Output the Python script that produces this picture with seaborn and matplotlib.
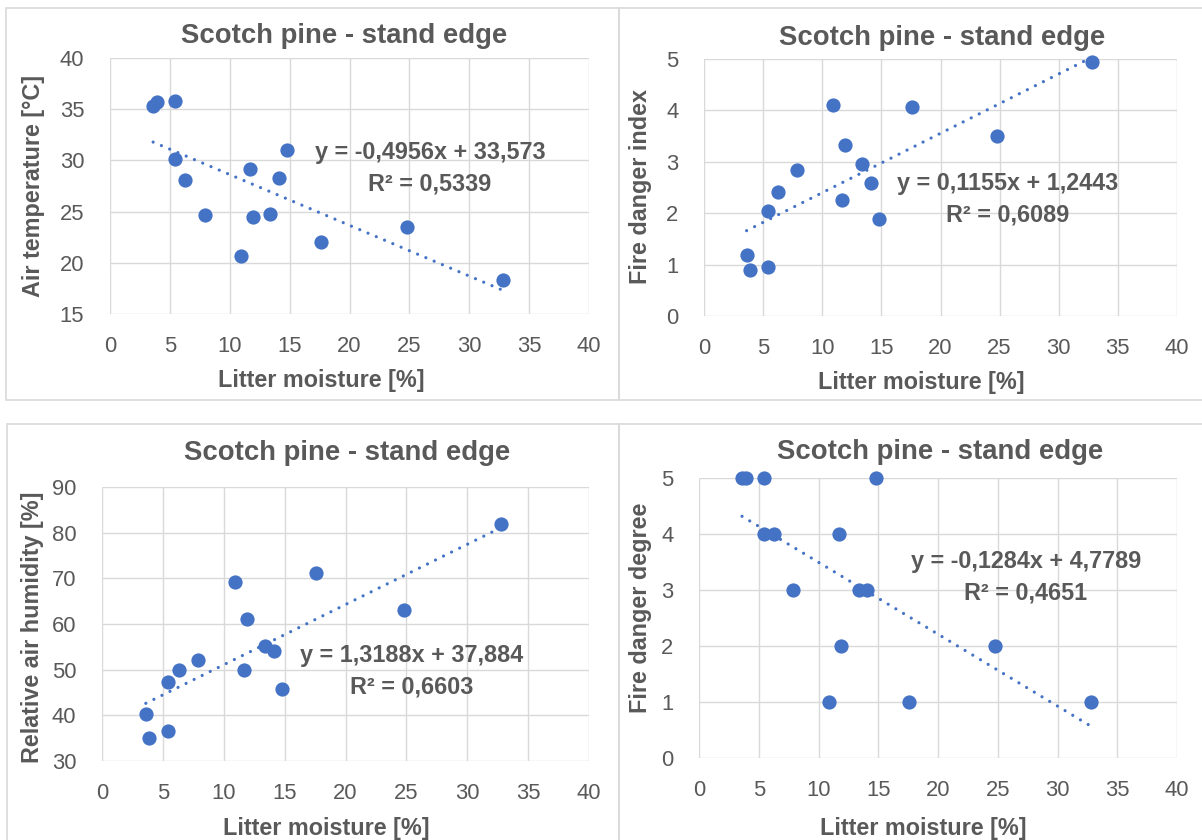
import numpy as np
import matplotlib
matplotlib.use("Agg")
import matplotlib.pyplot as plt
import seaborn as sns
from matplotlib.patches import Rectangle

# DATA
moisture = [3.6, 3.9, 5.4, 5.4, 6.3, 7.9, 10.9, 11.7, 11.9, 13.4, 14.1, 14.8, 17.6, 24.8, 32.8]
air_temp = [35.35, 35.67, 35.8, 30.15, 28.1, 24.7, 20.7, 29.2, 24.5, 24.8, 28.3, 31.0, 22.0, 23.5, 18.35]
fire_index = [1.18, 0.89, 0.95, 2.05, 2.41, 2.85, 4.10, 2.26, 3.32, 2.95, 2.59, 1.88, 4.07, 3.51, 4.95]
humidity = [40.3, 35.0, 36.5, 47.2, 50.0, 52.1, 69.1, 50.0, 61.0, 55.1, 54.0, 45.7, 71.1, 63.0, 81.8]
fire_degree = [5, 5, 5, 4, 4, 3, 1, 4, 2, 3, 3, 5, 1, 2, 1]

title = "Scotch pine - stand edge"
xlabel = "Litter moisture [%]"
ylabels = ["Air temperature [°C]", "Fire danger index", "Relative air humidity [%]", "Fire danger degree"]
series = [air_temp, fire_index, humidity, fire_degree]
y_limits = [(15, 40), (0, 5), (30, 90), (0, 5)]
y_steps = [5, 1, 10, 1]
x_ticks = [0, 5, 10, 15, 20, 25, 30, 35, 40]

# trendline coefficients + labels as printed on the charts
slopes = [-0.4956, 0.1155, 1.3188, -0.1284]
intercepts = [33.573, 1.2443, 37.884, 4.7789]
equations = ["y = -0,4956x + 33,573\nR² = 0,5339",
             "y = 0,1155x + 1,2443\nR² = 0,6089",
             "y = 1,3188x + 37,884\nR² = 0,6603",
             "y = -0,1284x + 4,7789\nR² = 0,4651"]

BLUE = "#4472C4"
GREY_TXT = "#595959"
GRID = "#D9D9D9"

W, H = 1202, 840

def fx(px):
    return px / W

def fy(py):
    return 1 - py / H

sns.set_theme(style="white")
plt.rcParams["font.family"] = ["Liberation Sans", "DejaVu Sans"]

fig = plt.figure(figsize=(W / 100, H / 100), dpi=100)

# plot area boxes in pixels: left, top, right, bottom
boxes = [(110, 58, 589, 314), (704, 59, 1177, 316), (102, 487, 589, 761), (699, 478, 1177, 758)]
title_pos = [(344, 43), (942, 45), (347, 460), (940, 459)]
xlabel_pos = [(321, 387), (921, 389), (326, 835), (923, 835)]
ylabel_pos = [(34, 186), (640, 187), (33, 627), (640, 608)]
eq_pos = [(430, 168), (1008, 199), (412, 671), (1026, 577)]

# chart area borders (Excel style)
for (l, t, r, b) in [(6, 8, 619, 400), (619, 8, 1215, 400), (7, 424, 619, 855), (619, 424, 1215, 855)]:
    fig.add_artist(Rectangle((fx(l), fy(b)), fx(r) - fx(l), fy(t) - fy(b),
                             transform=fig.transFigure, fill=False,
                             edgecolor=GRID, linewidth=1.2))

for i in range(4):
    l, t, r, b = boxes[i]
    ax = fig.add_axes([fx(l), fy(b), fx(r) - fx(l), fy(t) - fy(b)])

    # linear trendline (round-dot style)
    xs = np.array([min(moisture), max(moisture)])
    ax.plot(xs, slopes[i] * xs + intercepts[i], color=BLUE, linewidth=2.3,
            linestyle=(0, (0.01, 2.8)), dash_capstyle="round", zorder=3)

    sns.scatterplot(x=moisture, y=series[i], ax=ax, color=BLUE, s=105,
                    linewidth=0, clip_on=False, zorder=4)

    ax.set_xlim(0, 40)
    ax.set_ylim(*y_limits[i])
    ax.set_xticks(x_ticks)
    lo, hi = y_limits[i]
    ax.set_yticks(np.arange(lo, hi + y_steps[i] / 2, y_steps[i]))
    ax.grid(True, color=GRID, linewidth=1.0)
    ax.set_axisbelow(True)
    for s in ax.spines.values():
        s.set_visible(False)
    ax.tick_params(axis="x", length=0, pad=16, labelsize=15.8, labelcolor=GREY_TXT)
    ax.tick_params(axis="y", length=0, pad=18.5, labelsize=15.8, labelcolor=GREY_TXT)

    fig.text(fx(title_pos[i][0]), fy(title_pos[i][1]), title, ha="center", va="baseline",
             fontweight="bold", fontsize=19.8, color=GREY_TXT)
    fig.text(fx(xlabel_pos[i][0]), fy(xlabel_pos[i][1]), xlabel, ha="center", va="baseline",
             fontweight="bold", fontsize=16.8, color=GREY_TXT)
    fig.text(fx(ylabel_pos[i][0]), fy(ylabel_pos[i][1]), ylabels[i], ha="center", va="center",
             rotation=90, fontweight="bold", fontsize=16.8, color=GREY_TXT)
    fig.text(fx(eq_pos[i][0]), fy(eq_pos[i][1]), equations[i], ha="center", va="center",
             multialignment="center", fontweight="bold", fontsize=16.8, color=GREY_TXT,
             linespacing=1.45)

plt.savefig("out.png", dpi=100)
